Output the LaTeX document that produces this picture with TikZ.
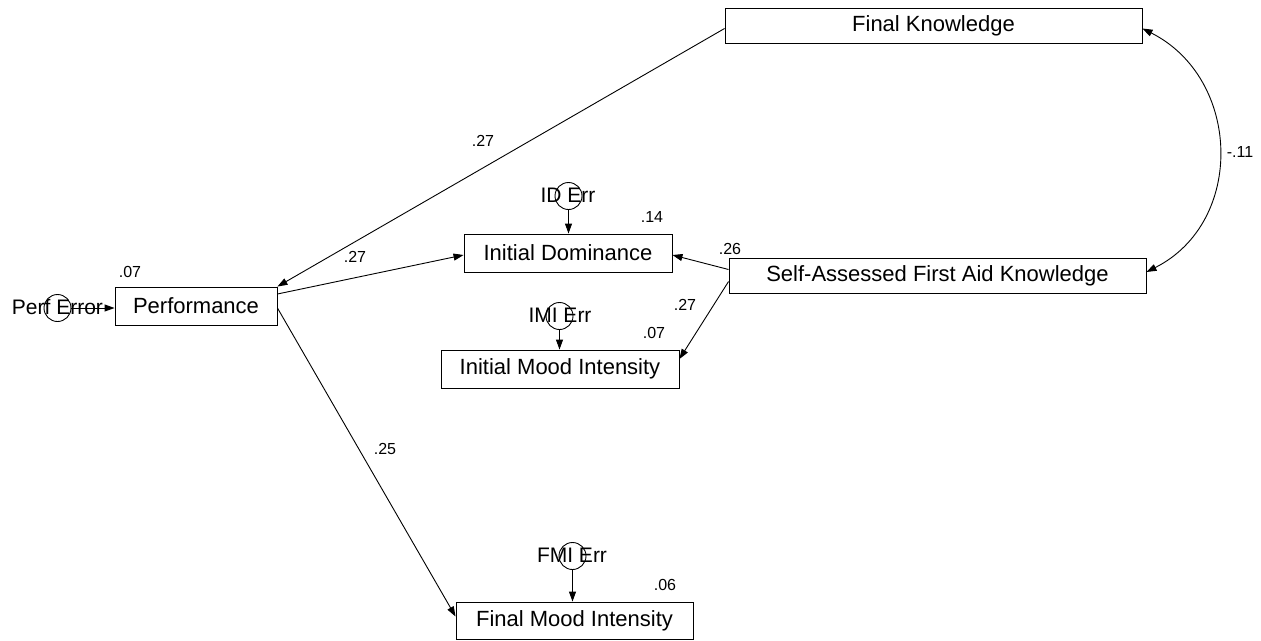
\documentclass[tikz,border=0pt]{standalone}
\usepackage{fontspec}
\setmainfont{Liberation Sans}
\usetikzlibrary{arrows.meta,calc}
\begin{document}
\begin{tikzpicture}[x=1pt,y=-1pt,
  line width=0.9pt,
  obs/.style={draw, rectangle, inner sep=0pt, font=\fontsize{22}{24}\selectfont},
  errc/.style={draw, circle, inner sep=0pt, minimum size=27pt},
  errt/.style={inner sep=0pt, font=\fontsize{21}{23}\selectfont},
  coef/.style={inner sep=0pt, font=\fontsize{16}{18}\selectfont},
  path/.style={-{Triangle[length=10pt,width=7pt]}},
  cov/.style={{Triangle[length=10pt,width=7pt]}-{Triangle[length=10pt,width=7pt]}}
]
\useasboundingbox[fill=white] (0,0) rectangle (1261,640);

% observed variables
\node[obs, minimum width=417pt, minimum height=35pt] (fk)   at (933.5,25.5) {Final Knowledge};
\node[obs, minimum width=162pt, minimum height=38pt] (perf) at (196,306)    {Performance};
\node[obs, minimum width=208pt, minimum height=38pt] (id)   at (568,253)    {Initial Dominance};
\node[obs, minimum width=238pt, minimum height=38pt] (imi)  at (560,369)    {Initial Mood Intensity};
\node[obs, minimum width=417pt, minimum height=35pt] (sa)   at (937.5,275.5) {Self-Assessed First Aid Knowledge};
\node[obs, minimum width=237pt, minimum height=37pt] (fmi)  at (574.5,620.5) {Final Mood Intensity};

% error terms
\node[errc] (pe)   at (57.5,308) {};
\node[errt] (pet)  at (57.5,307) {Perf Error};
\node[errc] (ide)  at (568.5,196) {};
\node[errt] (idet) at (568,195) {ID Err};
\node[errc] (imie) at (559.5,316) {};
\node[errt] (imit) at (560,315) {IMI Err};
\node[errc] (fmie) at (572.5,556) {};
\node[errt] (fmit) at (572,555) {FMI Err};

% error arrows
\draw[path] (pe.east) -- (pe.east -| perf.west);
\draw[path] (ide.south) -- (ide.south |- id.north);
\draw[path] (imie.south) -- (imie.south |- imi.north);
\draw[path] (fmie.south) -- (fmie.south |- fmi.north);

% structural paths
\draw[path] ($(fk.west)+(0,3)$) -- (perf.north east);
\draw[path] ($(perf.east)+(0,-12)$) -- ($(id.west)+(0,2)$);
\draw[path] ($(perf.east)+(0,2)$) -- ($(fmi.west)+(0,-4)$);
\draw[path] ($(sa.west)+(0,-6)$) -- ($(id.east)+(0,2)$);
\draw[path] ($(sa.west)+(0,6)$) -- ($(imi.east)+(0,-10)$);

% covariance
\draw[cov] ($(fk.east)+(0,3)$) .. controls +(99,50) and +(99,-50) .. ($(sa.east)+(0,-3.5)$);

% coefficients
\node[coef] (c1)  at (483,141)  {.27};
\node[coef] (c2)  at (355,257)  {.27};
\node[coef] (c3)  at (130,272)  {.07};
\node[coef] (c4)  at (652,217)  {.14};
\node[coef] (c5)  at (730,249)  {.26};
\node[coef] (c6)  at (685,305)  {.27};
\node[coef] (c7)  at (654,333)  {.07};
\node[coef] (c8)  at (385,449)  {.25};
\node[coef] (c9)  at (665,585)  {.06};
\node[coef] (c10) at (1240,152) {-.11};
\end{tikzpicture}
\end{document}
